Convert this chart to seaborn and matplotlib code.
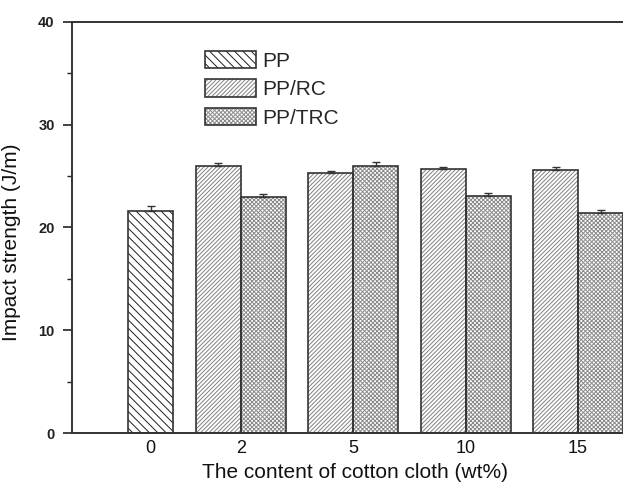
import numpy as np
import pandas as pd
import matplotlib
matplotlib.use("Agg")
import matplotlib.pyplot as plt
from matplotlib.patches import Patch, Rectangle
from matplotlib.legend_handler import HandlerTuple
from matplotlib.ticker import MultipleLocator
import seaborn as sns

# ---- data ----
contents = ["0", "2", "5", "10", "15"]
series = ["PP", "PP/RC", "PP/TRC"]
pp_values = [21.6]
pp_err = [0.5]
rc_values = [25.95, 25.27, 25.69, 25.6]
rc_err = [0.33, 0.26, 0.23, 0.26]
trc_values = [22.94, 25.99, 23.1, 21.38]
trc_err = [0.35, 0.42, 0.3, 0.32]

# ---- layout (positions of groups on the x axis) ----
group_pos = [0.2, 1.0, 2.0, 3.0, 4.0]
offset = 0.2

rows = []
rows.append(dict(pos=group_pos[0], val=pp_values[0], err=pp_err[0], series="PP"))
for i, c in enumerate(contents[1:]):
    rows.append(dict(pos=group_pos[i + 1] - offset, val=rc_values[i], err=rc_err[i], series="PP/RC"))
    rows.append(dict(pos=group_pos[i + 1] + offset, val=trc_values[i], err=trc_err[i], series="PP/TRC"))
df = pd.DataFrame(rows)

sns.set_theme(style="white")
plt.rcParams["font.family"] = ["Liberation Sans", "DejaVu Sans"]
plt.rcParams["hatch.linewidth"] = 0.7

fig = plt.figure(figsize=(6.23, 4.83), dpi=100)
ax = fig.add_axes([0.1156, 0.1035, 0.8844, 0.851])

sns.barplot(data=df, x="pos", y="val", hue="series", hue_order=series,
            native_scale=True, dodge=False, width=1.0, errorbar=None,
            palette={s: "white" for s in series}, legend=False, ax=ax)

hatches = {"PP": "\\" * 4, "PP/RC": "/" * 8, "PP/TRC": "x" * 8}
hatch_colors = {"PP": "#1e1e1e", "PP/RC": "#808080", "PP/TRC": "#8a8a8a"}
outline = "#333333"

for cont, s in zip(ax.containers, series):
    for p in cont.patches:
        p.set_hatch(hatches[s])
        p.set_edgecolor(hatch_colors[s])
        p.set_linewidth(0)
        p.set_facecolor("white")
        ax.add_patch(Rectangle(p.get_xy(), p.get_width(), p.get_height(),
                               fill=False, edgecolor=outline, linewidth=1.2, zorder=3))

# error bars (upper only)
ax.errorbar(df["pos"], df["val"], yerr=[np.zeros(len(df)), df["err"]],
            fmt="none", ecolor=outline, elinewidth=1.0, capsize=3, capthick=1.0, zorder=4)

ax.set_ylim(0, 40)
ax.set_xlim(-0.5, 4.4)
ax.yaxis.set_major_locator(MultipleLocator(10))
ax.yaxis.set_minor_locator(MultipleLocator(5))
ax.set_xticks(group_pos)
ax.set_xticklabels(contents, fontsize=13)
ax.tick_params(axis="x", length=0, pad=5, colors="#111111")
ax.tick_params(axis="y", which="major", direction="out", length=6.5, width=1.2,
               left=True, labelsize=10.5, colors="#222222", pad=6)
ax.tick_params(axis="y", which="minor", direction="out", length=3.5, width=1.0, left=True,
               colors="#222222")
for lbl in ax.get_yticklabels():
    lbl.set_fontweight("bold")

ax.set_xlabel("The content of cotton cloth (wt%)", fontsize=15, color="#111111")
ax.set_ylabel("Impact strength (J/m)", fontsize=15, color="#111111")
ax.xaxis.set_label_coords(0.514, -0.073)
ax.yaxis.set_label_coords(-0.093, 0.465)

for side in ["left", "top", "bottom"]:
    ax.spines[side].set_visible(True)
    ax.spines[side].set_color("#333333")
    ax.spines[side].set_linewidth(1.4)
ax.spines["right"].set_visible(False)

handles = []
for s in series:
    h1 = Patch(facecolor="white", edgecolor=hatch_colors[s], hatch=hatches[s], linewidth=0)
    h2 = Patch(facecolor="none", edgecolor=outline, linewidth=1.2)
    handles.append((h1, h2))
ax.legend(handles, series, handler_map={tuple: HandlerTuple(ndivide=1)},
          loc="upper left", bbox_to_anchor=(0.241, 0.930), frameon=False,
          fontsize=15, handlelength=2.45, handleheight=0.9, labelspacing=0.42,
          handletextpad=0.3, borderpad=0, borderaxespad=0)

fig.savefig("out.png", dpi=100)
